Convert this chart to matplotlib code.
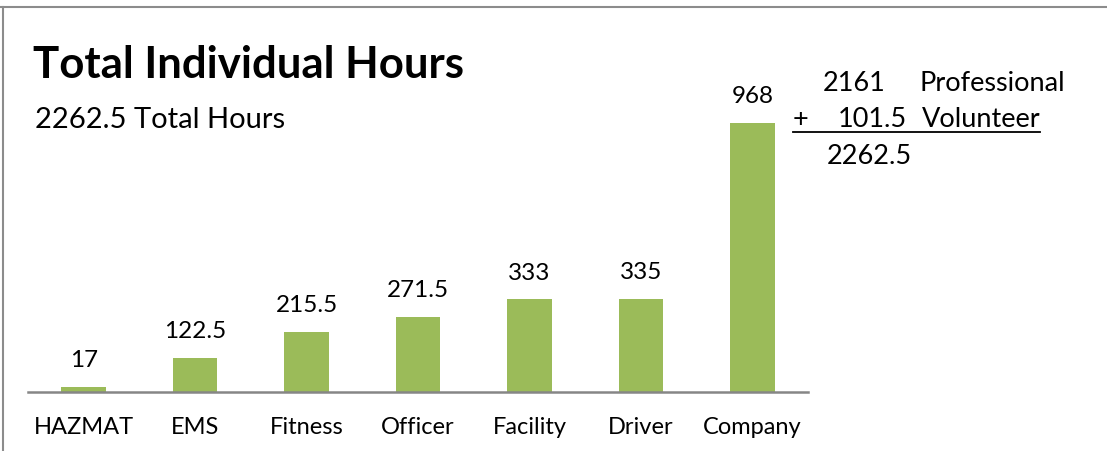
import matplotlib.pyplot as plt
from matplotlib.lines import Line2D

plt.rcParams['font.family'] = ['Lato', 'DejaVu Sans']

# data
categories = ['HAZMAT', 'EMS', 'Fitness', 'Officer', 'Facility', 'Driver', 'Company']
hours = [17, 122.5, 215.5, 271.5, 333, 335, 968]
value_labels = ['17', '122.5', '215.5', '271.5', '333', '335', '968']
professional = '2161'
volunteer = '101.5'
total = '2262.5'

W, H = 1107, 451
fig = plt.figure(figsize=(W / 100, H / 100), dpi=100)


def fx(px):
    return px / W


def fy(py):
    return 1 - py / H


ax = fig.add_axes([fx(28), fy(392), fx(808) - fx(28), fy(60) - fy(392)])
x = range(len(categories))
ax.bar(x, hours, width=0.4, color='#9BBB59')
ax.set_xlim(-0.5, len(categories) - 0.5)
ax.set_ylim(0, 1195)

for xi, v, lab in zip(x, hours, value_labels):
    ax.annotate(lab, (xi, v), xytext=(0, 19), textcoords='offset points',
                ha='center', va='center', fontsize=17.5)

ax.set_xticks(list(x))
ax.set_xticklabels(categories, fontsize=17)
ax.tick_params(axis='x', length=0, pad=18)
ax.set_yticks([])
for s in ['top', 'right', 'left']:
    ax.spines[s].set_visible(False)
ax.spines['bottom'].set_color('#868686')
ax.spines['bottom'].set_linewidth(1.8)

# titles
fig.text(fx(33), fy(78), 'Total Individual Hours', fontsize=31.5, fontweight='bold',
         ha='left', va='baseline')
fig.text(fx(35), fy(128), total + ' Total Hours', fontsize=21, ha='left', va='baseline')

# sum on the right
fs = 19.5
fig.text(fx(885), fy(91), professional, fontsize=fs, ha='right', va='baseline')
fig.text(fx(920), fy(91), 'Professional', fontsize=fs, ha='left', va='baseline')
fig.text(fx(793), fy(127), '+', fontsize=fs, ha='left', va='baseline')
fig.text(fx(907), fy(127), volunteer, fontsize=fs, ha='right', va='baseline')
fig.text(fx(922), fy(127), 'Volunteer', fontsize=fs, ha='left', va='baseline')
fig.text(fx(827), fy(164), total, fontsize=fs, ha='left', va='baseline')
fig.add_artist(Line2D([fx(793), fx(1040)], [fy(132), fy(132)], color='black', lw=1.3))

# frame
fig.add_artist(Line2D([0, 1], [fy(7), fy(7)], color='#8c8c8c', lw=1.5))
fig.add_artist(Line2D([fx(3), fx(3)], [0, fy(7)], color='#8c8c8c', lw=1.5))

plt.savefig('out.png', dpi=100)
